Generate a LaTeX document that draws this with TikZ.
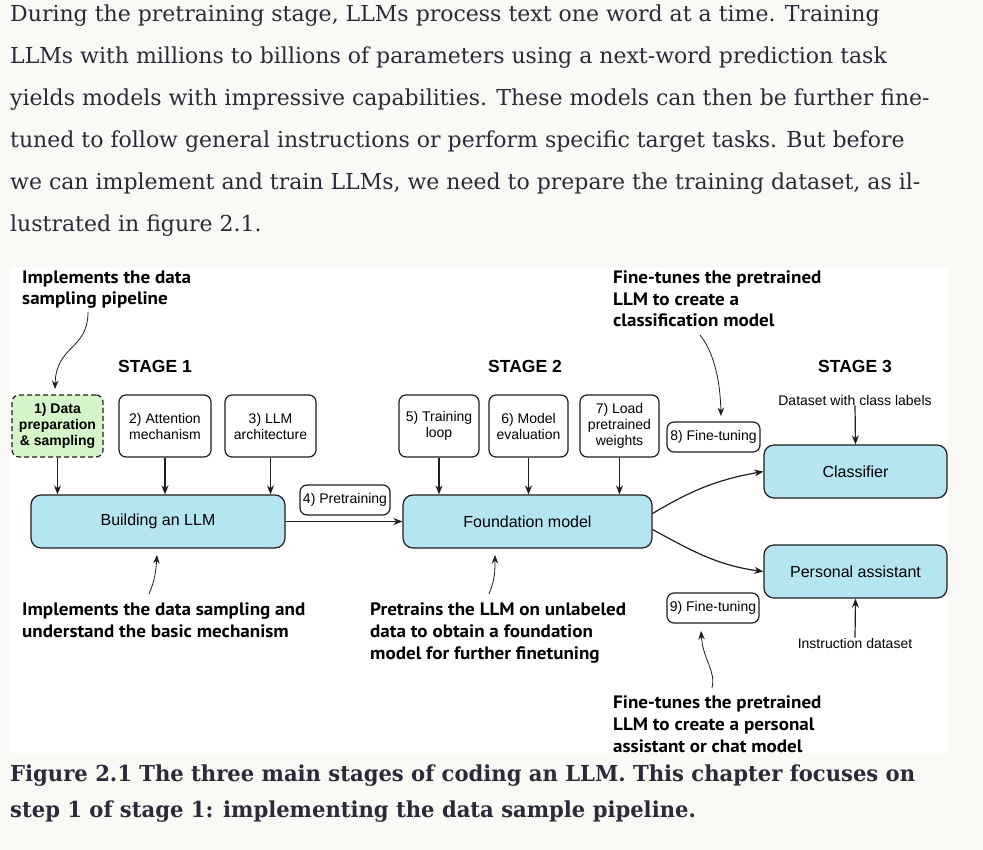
\documentclass[tikz,border=0pt]{standalone}
\usepackage{fontspec}
\setmainfont{DejaVu Serif}
\newfontfamily\parafont{DejaVu Serif}
\newfontfamily\capfont[FakeStretch=0.96]{DejaVu Serif}
\newfontfamily\arialf{Liberation Sans}
\newfontfamily\annf[FakeStretch=1.06]{PT Sans}
\usetikzlibrary{arrows.meta}
\definecolor{pagebg}{RGB}{250,249,245}
\definecolor{txtc}{RGB}{42,42,56}
\definecolor{boxblue}{RGB}{182,229,242}
\definecolor{boxgreen}{RGB}{214,245,200}
\definecolor{linec}{RGB}{30,30,30}
\tikzset{
  para/.style={anchor=base west, inner sep=0pt, text=txtc, font=\parafont\fontsize{22}{26}\selectfont},
  capt/.style={anchor=base west, inner sep=0pt, text=txtc, font=\capfont\bfseries\fontsize{22}{26}\selectfont},
  smallbox/.style={draw=linec, line width=1.2pt, rounded corners=7pt, fill=white, inner sep=0pt, align=center, font=\arialf\fontsize{14}{16}\selectfont},
  bigbox/.style={smallbox, fill=boxblue, rounded corners=10pt, font=\arialf\fontsize{16}{18}\selectfont},
  stagelbl/.style={inner sep=0pt, font=\arialf\bfseries\fontsize{17.5}{20}\selectfont},
  dslbl/.style={inner sep=0pt, font=\arialf\fontsize{14}{16}\selectfont},
  ann/.style={anchor=base west, inner sep=0pt, align=left, font=\annf\bfseries\fontsize{18}{21.7}\selectfont},
  arr/.style={draw=linec, -{Stealth[length=9pt,width=7pt]}, line width=1.2pt},
  thinarr/.style={draw=linec, -{Stealth[length=8.5pt,width=6.5pt]}, line width=0.8pt},
}
\begin{document}
\begin{tikzpicture}[x=1pt,y=-1pt]
\fill[pagebg] (0,0) rectangle (983,850);
\useasboundingbox (0,0) rectangle (983,850);
\fill[white] (10,268) rectangle (948,753);

% paragraph
\node[para] (p1) at (10,22) {During the pretraining stage, LLMs process text one word at a time. Training};
\node[para] (p2) at (10,64) {LLMs with millions to billions of parameters using a next-word prediction task};
\node[para] (p3) at (10,106) {yields models with impressive capabilities. These models can then be further fine-};
\node[para] (p4) at (10,148) {tuned to follow general instructions or perform specific target tasks. But before};
\node[para] (p5) at (10,190) {we can implement and train LLMs, we need to prepare the training dataset, as il-};
\node[para] (p6) at (10,232) {lustrated in figure 2.1.};

% caption
\node[capt] (c1) at (10,781) {Figure 2.1 The three main stages of coding an LLM. This chapter focuses on};
\node[capt] (c2) at (10,817) {step 1 of stage 1: implementing the data sample pipeline.};

% stage labels
\node[stagelbl] (s1) at (155,366) {STAGE 1};
\node[stagelbl] (s2) at (525,366) {STAGE 2};
\node[stagelbl] (s3) at (855,366) {STAGE 3};

% stage 1 boxes
\node[smallbox, fill=boxgreen, dash pattern=on 5pt off 3pt, font=\arialf\bfseries\fontsize{14}{16}\selectfont, minimum width=91pt, minimum height=62pt] (b1) at (57.5,426) {1) Data\\preparation\\\& sampling};
\node[smallbox, minimum width=92pt, minimum height=62pt] (b2) at (165,426) {2) Attention\\mechanism};
\node[smallbox, minimum width=91pt, minimum height=62pt] (b3) at (270.5,426) {3) LLM\\architecture};
\node[bigbox, minimum width=254pt, minimum height=53pt] (bllm) at (158,521.5) {Building an LLM};
\node[smallbox, minimum width=90pt, minimum height=30pt] (b4) at (345,500) {4) Pretraining};

% stage 2 boxes
\node[smallbox, minimum width=80pt, minimum height=62pt] (b5) at (439,426) {5) Training\\loop};
\node[smallbox, minimum width=79pt, minimum height=62pt] (b6) at (528.5,426) {6) Model\\evaluation};
\node[smallbox, minimum width=79pt, minimum height=62pt] (b7) at (619.5,426) {7) Load\\pretrained\\weights};
\node[bigbox, minimum width=249pt, minimum height=53pt] (fm) at (527.5,521.5) {Foundation model};

% stage 3
\node[smallbox, minimum width=93pt, minimum height=30pt] (b8) at (713.5,437) {8) Fine-tuning};
\node[smallbox, minimum width=92pt, minimum height=30pt] (b9) at (713,608) {9) Fine-tuning};
\node[bigbox, minimum width=183pt, minimum height=53pt] (cls) at (855.5,471.5) {Classifier};
\node[bigbox, minimum width=183pt, minimum height=53pt] (pa) at (855.5,571.5) {Personal assistant};
\node[dslbl] (dcl) at (855,400) {Dataset with class labels};
\node[dslbl] (dins) at (855,643) {Instruction dataset};

% arrows
\foreach \b in {b1,b2,b3} \draw[arr] (\b.south) -- (\b.south |- bllm.north);
\foreach \b in {b5,b6,b7} \draw[arr] (\b.south) -- (\b.south |- fm.north);
\draw[arr] (bllm.east) -- (fm.west);
\draw[arr] ([yshift=8pt]fm.east) .. controls +(40,-24) and +(-45,8) .. (cls.west);
\draw[arr] ([yshift=-8pt]fm.east) .. controls +(40,22) and +(-45,-6) .. (pa.west);
\draw[arr] (dcl.south) -- (cls.north);
\draw[arr] (dins.north) -- (pa.south);

% annotations (anchor = baseline of the last line)
\node[ann] (a1) at (22,305) {Implements the data\\sampling pipeline};
\node[ann] (a2) at (613,327) {Fine-tunes the pretrained\\LLM to create a\\classification model};
\node[ann] (a3) at (22,637) {Implements the data sampling and\\understand the basic mechanism};
\node[ann] (a4) at (370,659) {Pretrains the LLM on unlabeled\\data to obtain a foundation\\model for further finetuning};
\node[ann] (a5) at (613,752) {Fine-tunes the pretrained\\LLM to create a personal\\assistant or chat model};

\coordinate (t1) at (88,312);
\coordinate (h1) at (55,389);
\coordinate (t2) at (700,335);
\coordinate (h2) at (721,416);
\coordinate (t3) at (149,594);
\coordinate (h3) at (157,555);
\coordinate (t4) at (489,594);
\coordinate (h4) at (495,555);
\coordinate (t5) at (712,688);
\coordinate (h5) at (701,631);
\draw[thinarr] (t1) .. controls (88,350) and (56,345) .. (h1);
\draw[thinarr] (t2) .. controls (712,350) and (720,375) .. (h2);
\draw[thinarr] (t3) .. controls (155,580) and (156,570) .. (h3);
\draw[thinarr] (t4) .. controls (495,580) and (495,570) .. (h4);
\draw[thinarr] (t5) .. controls (716,670) and (703,660) .. (h5);
\end{tikzpicture}
\end{document}
